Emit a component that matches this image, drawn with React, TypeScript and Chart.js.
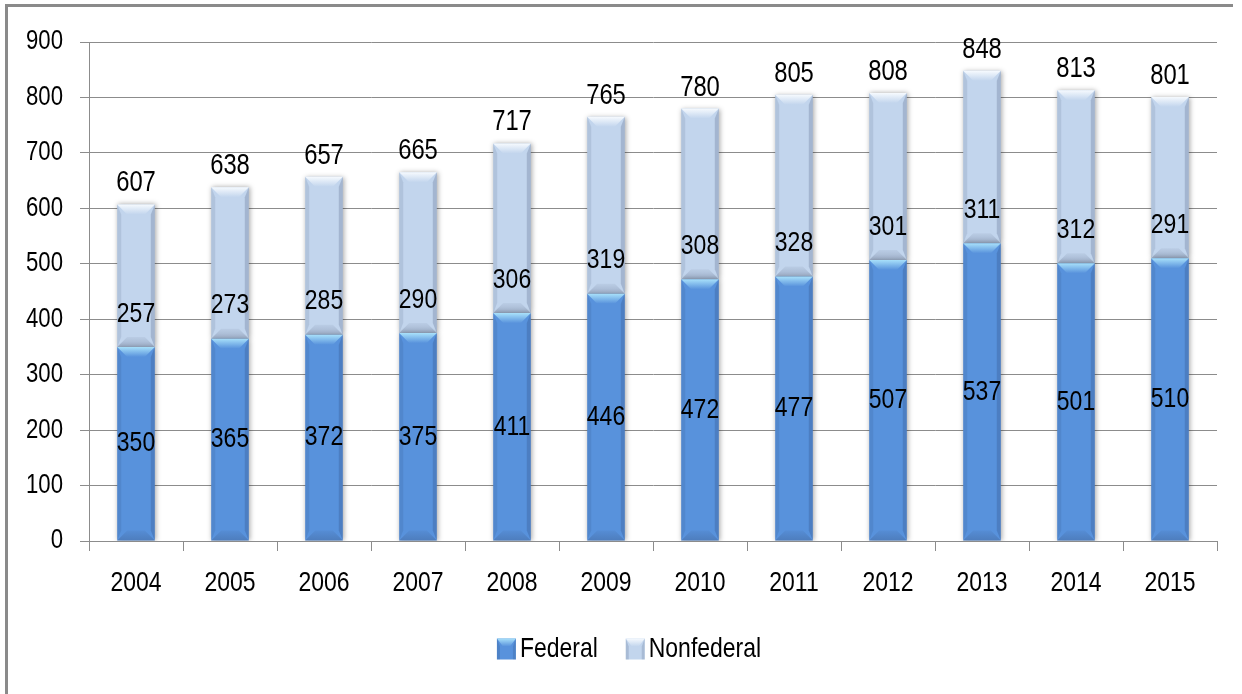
import React, { useEffect, useRef } from "react";
import { Chart, registerables } from "chart.js";

Chart.register(...registerables);

const years = ["2004", "2005", "2006", "2007", "2008", "2009", "2010", "2011", "2012", "2013", "2014", "2015"];
const federal = [350, 365, 372, 375, 411, 446, 472, 477, 507, 537, 501, 510];
const nonfederal = [257, 273, 285, 290, 306, 319, 308, 328, 301, 311, 312, 291];
const totals = [607, 638, 657, 665, 717, 765, 780, 805, 808, 848, 813, 801];
const seriesNames = ["Federal", "Nonfederal"];
const seriesColors = ["#5892DC", "#C2D5ED"];
const capColors = ["#A8E0FA", "#F6FAFE"];
const yMin = 0;
const yMax = 900;
const yStep = 100;

const FONT = "'Liberation Sans', Arial, sans-serif";
const GRID = "#8c8c8c";
const SQUEEZE = 0.82;

function poly(ctx: CanvasRenderingContext2D, pts: number[][]) {
  ctx.beginPath();
  ctx.moveTo(pts[0][0], pts[0][1]);
  for (let i = 1; i < pts.length; i++) ctx.lineTo(pts[i][0], pts[i][1]);
  ctx.closePath();
  ctx.fill();
}

function narrowText(
  ctx: CanvasRenderingContext2D,
  text: string,
  x: number,
  y: number,
  size: number,
  align: CanvasTextAlign
) {
  ctx.save();
  ctx.font = `${size}px ${FONT}`;
  ctx.fillStyle = "#000";
  ctx.textAlign = align;
  ctx.textBaseline = "middle";
  ctx.translate(x, y);
  ctx.scale(SQUEEZE, 1);
  ctx.fillText(text, 0, 0);
  ctx.restore();
}

function narrowWidth(ctx: CanvasRenderingContext2D, text: string, size: number) {
  ctx.save();
  ctx.font = `${size}px ${FONT}`;
  const w = ctx.measureText(text).width * SQUEEZE;
  ctx.restore();
  return w;
}

const shadowPlugin = {
  id: "barShadow",
  beforeDatasetDraw(chart: any) {
    const ctx = chart.ctx;
    ctx.save();
    ctx.shadowColor = "rgba(0,0,0,0.35)";
    ctx.shadowBlur = 5;
    ctx.shadowOffsetX = 1;
    ctx.shadowOffsetY = 0;
  },
  afterDatasetDraw(chart: any) {
    chart.ctx.restore();
  },
};

const bevelPlugin = {
  id: "bevel",
  afterDatasetsDraw(chart: any) {
    const ctx: CanvasRenderingContext2D = chart.ctx;
    chart.data.datasets.forEach((_ds: any, di: number) => {
      const meta = chart.getDatasetMeta(di);
      meta.data.forEach((el: any) => {
        const { x, y, base, width } = el.getProps(["x", "y", "base", "width"], true);
        const l = x - width / 2;
        const r = x + width / 2;
        const t = Math.min(y, base);
        const b = Math.max(y, base);
        const h = Math.min(10, (b - t) / 2);
        const s = 4;
        const c = 10;
        ctx.save();
        ctx.fillStyle = "rgba(20,40,80,0.10)";
        poly(ctx, [[l, t], [l + s, t + h], [l + s, b - h], [l, b]]);
        ctx.fillStyle = "rgba(20,40,80,0.18)";
        poly(ctx, [[r, t], [r - s, t + h], [r - s, b - h], [r, b]]);
        const g = ctx.createLinearGradient(0, t, 0, t + h);
        g.addColorStop(0, capColors[di]);
        g.addColorStop(1, seriesColors[di]);
        ctx.fillStyle = g;
        poly(ctx, [[l, t], [r, t], [r - c, t + h], [l + c, t + h]]);
        const g2 = ctx.createLinearGradient(0, b - h, 0, b);
        g2.addColorStop(0, "rgba(40,50,80,0.05)");
        g2.addColorStop(1, "rgba(40,50,80,0.22)");
        ctx.fillStyle = g2;
        poly(ctx, [[l, b], [r, b], [r - c, b - h], [l + c, b - h]]);
        ctx.restore();
      });
    });
  },
};

const labelPlugin = {
  id: "valueLabels",
  afterDatasetsDraw(chart: any) {
    const ctx: CanvasRenderingContext2D = chart.ctx;
    const m0 = chart.getDatasetMeta(0);
    const m1 = chart.getDatasetMeta(1);
    m0.data.forEach((el: any, i: number) => {
      narrowText(ctx, String(federal[i]), el.x, (el.y + el.base) / 2, 28, "center");
    });
    m1.data.forEach((el: any, i: number) => {
      narrowText(ctx, String(nonfederal[i]), el.x, el.base - 33, 28, "center");
      narrowText(ctx, String(totals[i]), el.x, el.y - 21, 29, "center");
    });
  },
};

const tickTextPlugin = {
  id: "tickText",
  afterDraw(chart: any) {
    const ctx: CanvasRenderingContext2D = chart.ctx;
    const xs = chart.scales.x;
    const ys = chart.scales.y;
    xs.ticks.forEach((_t: any, i: number) => {
      narrowText(ctx, String(xs.getLabelForValue(i)), xs.getPixelForTick(i), xs.top + 42, 28, "center");
    });
    ys.ticks.forEach((t: any, i: number) => {
      narrowText(ctx, String(t.value), ys.right - 26, ys.getPixelForTick(i), 27, "right");
    });
  },
};

const legendPlugin = {
  id: "customLegend",
  afterDraw(chart: any) {
    const ctx: CanvasRenderingContext2D = chart.ctx;
    const bw = 19;
    const bh = 21;
    const gap = 4;
    const itemGap = 28;
    const size = 28;
    const widths = seriesNames.map((n) => bw + gap + narrowWidth(ctx, n, size));
    const total = widths.reduce((a, b) => a + b, 0) + itemGap * (seriesNames.length - 1);
    let x = chart.width / 2 + 8 - total / 2;
    const cy = 649;
    ctx.save();
    seriesNames.forEach((n, i) => {
      const t = cy - bh / 2;
      const b = cy + bh / 2;
      ctx.fillStyle = seriesColors[i];
      ctx.fillRect(x, t, bw, bh);
      const g = ctx.createLinearGradient(0, t, 0, t + 8);
      g.addColorStop(0, capColors[i]);
      g.addColorStop(1, seriesColors[i]);
      ctx.fillStyle = g;
      poly(ctx, [[x, t], [x + bw, t], [x + bw - 6, t + 8], [x + 6, t + 8]]);
      ctx.fillStyle = "rgba(20,40,80,0.15)";
      poly(ctx, [[x, t], [x + 3, t + 8], [x + 3, b], [x, b]]);
      poly(ctx, [[x + bw, t], [x + bw - 3, t + 8], [x + bw - 3, b], [x + bw, b]]);
      narrowText(ctx, n, x + bw + gap, cy, size, "left");
      x += widths[i] + itemGap;
    });
    ctx.restore();
  },
};

export default function App() {
  const ref = useRef<HTMLCanvasElement | null>(null);

  useEffect(() => {
    if (!ref.current) return;
    const chart = new Chart(ref.current, {
      type: "bar",
      data: {
        labels: years,
        datasets: [
          {
            label: seriesNames[0],
            data: federal,
            backgroundColor: seriesColors[0],
            borderWidth: 0,
            barPercentage: 0.8,
            categoryPercentage: 0.5,
          },
          {
            label: seriesNames[1],
            data: nonfederal,
            backgroundColor: seriesColors[1],
            borderWidth: 0,
            barPercentage: 0.8,
            categoryPercentage: 0.5,
          },
        ],
      },
      options: {
        responsive: false,
        animation: false,
        devicePixelRatio: 1,
        layout: { padding: { left: 0, top: 42, right: 25, bottom: 0 } },
        plugins: {
          legend: { display: false },
          tooltip: { enabled: false },
        },
        scales: {
          x: {
            stacked: true,
            grid: {
              offset: true,
              drawOnChartArea: false,
              drawTicks: true,
              tickLength: 10,
              color: GRID,
            },
            border: { color: GRID, width: 1 },
            ticks: { display: false },
            afterFit(scale: any) {
              scale.height = 694 - 541;
            },
          },
          y: {
            stacked: true,
            min: yMin,
            max: yMax,
            ticks: { stepSize: yStep, display: false },
            grid: { color: GRID, tickLength: 9, lineWidth: 1 },
            border: { color: GRID, width: 1 },
            afterFit(scale: any) {
              scale.width = 89;
            },
          },
        },
      },
      plugins: [shadowPlugin, bevelPlugin, labelPlugin, tickTextPlugin, legendPlugin],
    } as any);
    return () => chart.destroy();
  }, []);

  return (
    <div style={{ position: "absolute", left: 0, top: 0, width: 1242, height: 694, background: "#fff", overflow: "hidden" }}>
      <div
        style={{
          position: "absolute",
          left: 5,
          top: 4,
          width: 1228,
          height: 690,
          borderTop: "3px solid #8a8a8a",
          borderLeft: "3px solid #8a8a8a",
          boxSizing: "border-box",
        }}
      />
      <canvas ref={ref} width={1242} height={694} style={{ position: "absolute", left: 0, top: 0 }} />
    </div>
  );
}
